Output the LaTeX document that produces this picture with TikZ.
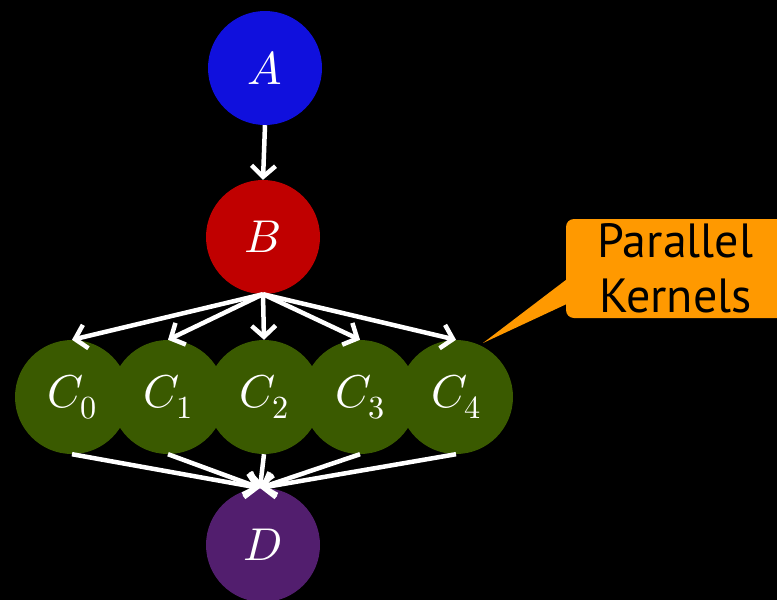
\documentclass[tikz,border=0pt]{standalone}
\usepackage{fontspec}
\usepackage{unicode-math}
\setmathfont{Latin Modern Math}
\newfontfamily\calloutfont{PT Sans}
\usetikzlibrary{arrows.meta,calc}
\definecolor{cA}{HTML}{1010DD}
\definecolor{cB}{HTML}{C00000}
\definecolor{cC}{HTML}{3A5A00}
\definecolor{cD}{HTML}{521E6E}
\definecolor{cO}{HTML}{FF9900}
\begin{document}
\begin{tikzpicture}[x=1pt,y=-1pt,
  ball/.style={circle,minimum size=114pt,inner sep=0pt,text=white,font=\fontsize{46}{50}\selectfont},
  conn/.style={draw=white,line width=4.5pt,-{Straight Barb[length=11pt,width=24pt,line width=4.5pt]}}]
\fill[black] (0,0) rectangle (777,600);
\useasboundingbox (0,0) rectangle (777,600);
\node[ball,fill=cA] (A) at (265,68) {$A$};
\node[ball,fill=cB] (B) at (263,237) {$B$};
\foreach \i/\x in {0/72,1/168,2/264,3/360,4/456}{
  \node[ball,fill=cC] (C\i) at (\x,397) {$C_{\i}$};
}
\node[ball,fill=cD] (D) at (263,545) {$D$};
\coordinate (Din) at (260,488);
\draw[conn] (A.south) -- (B.north);
\foreach \i in {0,...,4}{
  \draw[conn] (B.south) -- (C\i.north);
  \draw[conn] (C\i.south) -- (Din);
}
\node[fill=cO,rounded corners=8pt,minimum width=219pt,minimum height=99pt,inner sep=0pt,
  align=center,font=\calloutfont\fontsize{48}{55}\selectfont,text=black] (callout) at (675.5,268.5) {Parallel\\Kernels};
\coordinate (tip) at (483,343);
\fill[cO] ($(callout.west)+(2,10)$) -- ($(callout.west)+(2,35)$) -- (tip) -- cycle;
\end{tikzpicture}
\end{document}
